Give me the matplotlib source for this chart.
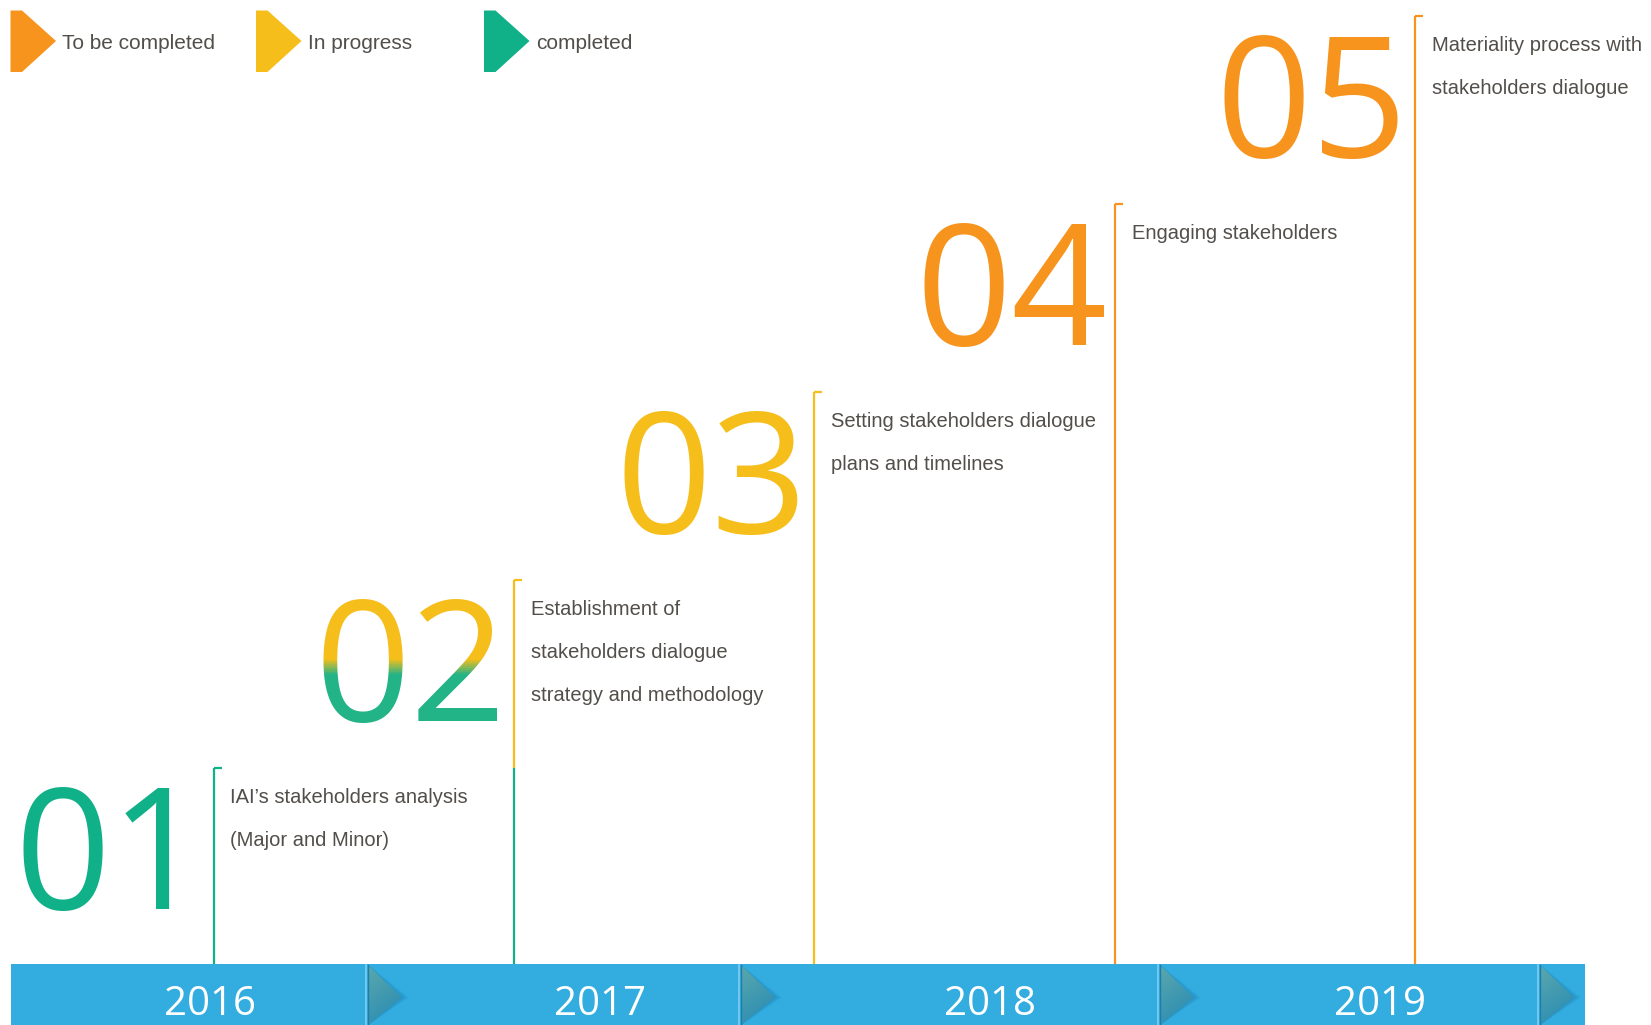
import numpy as np
import matplotlib.pyplot as plt
from matplotlib.patches import Polygon, Rectangle
from matplotlib.colors import to_rgb

# Data
years = ['2016', '2017', '2018', '2019']
step_numbers = ['01', '02', '03', '04', '05']
step_labels = [
    ['IAI\u2019s stakeholders analysis', '(Major and Minor)'],
    ['Establishment of', 'stakeholders dialogue', 'strategy and methodology'],
    ['Setting stakeholders dialogue', 'plans and timelines'],
    ['Engaging stakeholders'],
    ['Materiality process with', 'stakeholders dialogue'],
]
# (status of upper part, status of lower part) for every step
step_status = [
    ('completed', 'completed'),
    ('in progress', 'completed'),
    ('in progress', 'in progress'),
    ('to be completed', 'to be completed'),
    ('to be completed', 'to be completed'),
]
legend_labels = ['To be completed', 'In progress', 'completed']
legend_status = ['to be completed', 'in progress', 'completed']

# Styles
colors = {'to be completed': '#F7941E', 'in progress': '#F5BE1B', 'completed': '#10B088'}
bar_blue = '#33ACE0'
text_gray = '#524E4A'
narrow = ['Liberation Sans', 'DejaVu Sans']
W, H = 1651, 1025

fig = plt.figure(figsize=(W / 100, H / 100), dpi=100)
ax = fig.add_axes([0, 0, 1, 1])

# Year bar
bar_top, bar_bot = 964, 1025
ax.add_patch(Rectangle((10.5, bar_top), 1574.5, bar_bot - bar_top, color=bar_blue, lw=0))
breaks = [366, 739, 1158, 1538]
grad = np.linspace(0, 1, 60)[:, None] * 0.7 + np.linspace(0, 1, 40)[None, :] * 0.3
c1, c2 = np.array(to_rgb('#5BA8AC')), np.array(to_rgb('#2489B4'))
img = c1[None, None, :] * (1 - grad[..., None]) + c2[None, None, :] * grad[..., None]
for bx in breaks:
    ymid = (bar_top + bar_bot) / 2 + 3
    # soft shadow
    for k in range(7, 0, -1):
        sh = Polygon([(bx + 2, bar_top + 1), (bx + 36 + k, ymid), (bx + 2, bar_bot)],
                     closed=True, color='#1E86B8', alpha=0.09, lw=0)
        ax.add_patch(sh)
    tri = Polygon([(bx + 2, bar_top + 1), (bx + 36, ymid), (bx + 2, bar_bot)],
                  closed=True, facecolor='none', edgecolor='none')
    ax.add_patch(tri)
    im = ax.imshow(img, extent=(bx + 2, bx + 36, bar_bot, bar_top + 1),
                   origin='upper', aspect='auto', zorder=2)
    im.set_clip_path(tri)
    ax.plot([bx, bx], [bar_top + 1, bar_bot], color='#7ECDF3', lw=1.2, zorder=3)
    ax.plot([bx + 1.5, bx + 1.5], [bar_top + 1, bar_bot], color='#1E7EAA', lw=1.0, zorder=3)

for i, yr in enumerate(years):
    ax.text(210 + 390 * i, 1015, yr, ha='center', va='baseline', fontsize=29,
            family='Open Sans', color='white', zorder=4)

# Steps
x0, dx = 213.5, 300.4
y0, dy = 767.6, 188.0
for i, num in enumerate(step_numbers):
    x = x0 + dx * i
    top = y0 - dy * i
    upper, lower = step_status[i]
    if upper == lower:
        ax.plot([x, x], [top, bar_top], color=colors[upper], lw=1.6, solid_capstyle='butt')
    else:
        split = y0 - dy * (i - 1)
        ax.plot([x, x], [top, split], color=colors[upper], lw=1.6, solid_capstyle='butt')
        ax.plot([x, x], [split, bar_top], color=colors[lower], lw=1.6, solid_capstyle='butt')
    ax.plot([x, x + 8], [top, top], color=colors[upper], lw=1.6, solid_capstyle='butt')

    # big number
    kw = dict(ha='right', va='baseline', fontsize=121, family='Open Sans')
    if upper == lower:
        ax.text(x - 7, top + 141, num, color=colors[upper], **kw)
    else:
        # colour fades from the upper status to the lower one
        ca, cb = np.array(to_rgb(colors[upper])), np.array(to_rgb('#22B386'))
        g0, g1 = top + 78, top + 94
        edges = np.concatenate([[top - 50], np.linspace(g0, g1, 9), [top + 200]])
        for j in range(len(edges) - 1):
            f = np.clip((edges[j] - g0) / (g1 - g0), 0, 1)
            t = ax.text(x - 7, top + 141, num, color=ca * (1 - f) + cb * f,
                        clip_on=True, **kw)
            clip = Rectangle((x - 250, edges[j]), 260, edges[j + 1] - edges[j] + 0.6,
                             transform=ax.transData)
            t.set_clip_path(clip)

    # description
    for k, line in enumerate(step_labels[i]):
        ax.text(x + 17, top + 35 + 43 * k, line, ha='left', va='baseline',
                fontsize=14.5, family=narrow, color=text_gray)

# Legend
leg_x = [10.5, 256, 484]
for lx, lab, st in zip(leg_x, legend_labels, legend_status):
    shape = Polygon([(lx, 10.5), (lx + 11.5, 10.5), (lx + 45.5, 41),
                     (lx + 11.5, 72), (lx, 72)], closed=True, color=colors[st], lw=0)
    ax.add_patch(shape)
    ax.text(lx + 52, 49, lab, ha='left', va='baseline', fontsize=15,
            family=narrow, color=text_gray)

ax.set_xlim(0, W)
ax.set_ylim(H, 0)
ax.axis('off')
fig.savefig('out.png', dpi=100, facecolor='white')
